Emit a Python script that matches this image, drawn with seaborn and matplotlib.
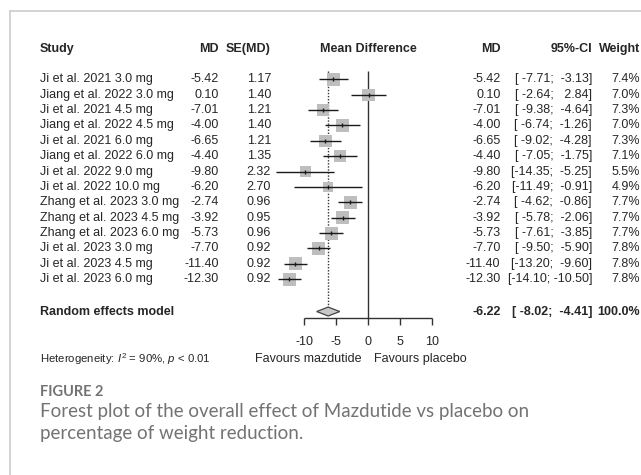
import numpy as np
import pandas as pd
import matplotlib
matplotlib.use("Agg")
import matplotlib.pyplot as plt
from matplotlib.transforms import blended_transform_factory
from matplotlib.lines import Line2D
from matplotlib.patches import Polygon
import seaborn as sns

# ---------------- data ----------------
studies = ["Ji et al. 2021 3.0 mg", "Jiang et al. 2022 3.0 mg", "Ji et al. 2021 4.5 mg",
           "Jiang et al. 2022 4.5 mg", "Ji et al. 2021 6.0 mg", "Jiang et al. 2022 6.0 mg",
           "Ji et al. 2022 9.0 mg", "Ji et al. 2022 10.0 mg", "Zhang et al. 2023 3.0 mg",
           "Zhang et al. 2023 4.5 mg", "Zhang et al. 2023 6.0 mg", "Ji et al. 2023 3.0 mg",
           "Ji et al. 2023 4.5 mg", "Ji et al. 2023 6.0 mg"]
md = [-5.42, 0.10, -7.01, -4.00, -6.65, -4.40, -9.80, -6.20, -2.74, -3.92, -5.73, -7.70, -11.40, -12.30]
se = [1.17, 1.40, 1.21, 1.40, 1.21, 1.35, 2.32, 2.70, 0.96, 0.95, 0.96, 0.92, 0.92, 0.92]
ci_lo = [-7.71, -2.64, -9.38, -6.74, -9.02, -7.05, -14.35, -11.49, -4.62, -5.78, -7.61, -9.50, -13.20, -14.10]
ci_hi = [-3.13, 2.84, -4.64, -1.26, -4.28, -1.75, -5.25, -0.91, -0.86, -2.06, -3.85, -5.90, -9.60, -10.50]
weight = [7.4, 7.0, 7.3, 7.0, 7.3, 7.1, 5.5, 4.9, 7.7, 7.7, 7.7, 7.8, 7.8, 7.8]
re_label = "Random effects model"
re_md, re_lo, re_hi, re_weight = -6.22, -8.02, -4.41, 100.0
x_ticks = [-10, -5, 0, 5, 10]
label_left = "Favours mazdutide"
label_right = "Favours placebo"
heterogeneity = r"Heterogeneity: $I^2$ = 90%, $p$ < 0.01"
fig_label = "FIGURE 2"
caption = ["Forest plot of the overall effect of Mazdutide vs placebo on",
           "percentage of weight reduction."]

# ---------------- style ----------------
sns.set_style("white")
plt.rcParams["font.family"] = ["Liberation Sans", "DejaVu Sans"]
plt.rcParams["mathtext.fontset"] = "custom"
plt.rcParams["mathtext.rm"] = "Liberation Sans"
plt.rcParams["mathtext.it"] = "Liberation Sans:italic"

W, H = 641, 475
fig = plt.figure(figsize=(W / 100, H / 100), dpi=100)
ax = fig.add_axes([0, 0, 1, 1])
ax.axis("off")

# layout: pixel geometry
ROW0, ROWH = 79.3, 15.38
X0, XU = 368.0, 6.4
ax.set_xlim(-X0 / XU, (W - X0) / XU)
ax.set_ylim((H - ROW0) / ROWH, -ROW0 / ROWH)

n = len(studies)
rows = np.arange(n)
re_row = 15.1
head_row = -2.0
axis_row = 15.54

df = pd.DataFrame({"study": studies, "md": md, "lo": ci_lo, "hi": ci_hi,
                   "w": weight, "row": rows})

FS = 9
tr = blended_transform_factory(fig.transFigure, ax.transData)
def px(x):
    return x / W

# headers
hdr = dict(fontsize=FS, fontweight="bold", va="center", transform=tr)
ax.text(px(40), head_row, "Study", ha="left", **hdr)
ax.text(px(219), head_row, "MD", ha="right", **hdr)
ax.text(px(271), head_row, "SE(MD)", ha="right", **hdr)
ax.text(px(368), head_row, "Mean Difference", ha="center", **hdr)
ax.text(px(500.5), head_row, "MD", ha="right", **hdr)
ax.text(px(592), head_row, "95%-CI", ha="right", **hdr)
ax.text(px(640), head_row, "Weight", ha="right", **hdr)

# row text
lo_w = max(len(f"{v:.2f}") for v in ci_lo + [re_lo])
hi_w = max(len(f"{v:.2f}") for v in ci_hi + [re_hi])
def ci_str(lo, hi):
    return "[" + f"{lo:.2f}".rjust(lo_w) + "; " + f"{hi:.2f}".rjust(hi_w) + "]"

txt = dict(fontsize=FS, va="center", transform=tr)
for i in range(n):
    ax.text(px(40), rows[i], studies[i], ha="left", **txt)
    ax.text(px(219), rows[i], f"{md[i]:.2f}", ha="right", **txt)
    ax.text(px(271), rows[i], f"{se[i]:.2f}", ha="right", **txt)
    ax.text(px(500.5), rows[i], f"{md[i]:.2f}", ha="right", **txt)
    ax.text(px(592), rows[i], ci_str(ci_lo[i], ci_hi[i]), ha="right", **txt)
    ax.text(px(640), rows[i], f"{weight[i]:.1f}%", ha="right", **txt)

ax.text(px(40), re_row, re_label, ha="left", fontweight="bold", **txt)
ax.text(px(500.5), re_row, f"{re_md:.2f}", ha="right", fontweight="bold", **txt)
ax.text(px(592), re_row, ci_str(re_lo, re_hi), ha="right", fontweight="bold", **txt)
ax.text(px(640), re_row, f"{re_weight:.1f}%", ha="right", fontweight="bold", **txt)

# reference lines
top_row = -0.56
d_half = 0.29
ax.vlines(0, top_row, axis_row, color="#333333", lw=1.0, zorder=1)
ax.vlines(re_md, top_row, re_row - d_half, color="#333333", lw=1.0,
          linestyles=(0, (1, 1.2)), zorder=1)

# squares (area ~ weight)
side_px = 13.0 * np.sqrt(df["w"] / max(weight))
sizes = (side_px * 0.72) ** 2
sns.scatterplot(data=df, x="md", y="row", marker="s", s=sizes, color="#bebebe",
                linewidth=0, ax=ax, legend=False, zorder=2)
ax.hlines(df["row"], df["lo"], df["hi"], color="#1a1a1a", lw=1.0, zorder=3)
sns.scatterplot(data=df, x="md", y="row", marker="|", s=12, color="#1a1a1a",
                linewidth=1.0, ax=ax, legend=False, zorder=4)

# diamond
dia = Polygon([[re_lo, re_row], [re_md, re_row - d_half], [re_hi, re_row],
               [re_md, re_row + d_half]], closed=True, facecolor="#c8c8c8",
              edgecolor="#444444", lw=0.9, zorder=3)
ax.add_patch(dia)

# x axis
ax.hlines(axis_row, x_ticks[0], x_ticks[-1], color="#333333", lw=1.0)
ax.vlines(x_ticks, axis_row, axis_row + 0.45, color="#333333", lw=1.0)
for t in x_ticks:
    ax.text(t, 17.08, f"{t}", ha="center", va="center", fontsize=FS)
ax.text(px(361.5), 18.18, label_left, ha="right", va="center", fontsize=FS, transform=tr)
ax.text(px(374), 18.18, label_right, ha="left", va="center", fontsize=FS, transform=tr)
ax.text(px(40), 18.18, heterogeneity, ha="left", va="center", fontsize=8.2, transform=tr)

# card border
bc = "#cccccc"
fig.add_artist(Line2D([px(10), px(10)], [1 - 11 / H, 0], transform=fig.transFigure, color=bc, lw=1.2))
fig.add_artist(Line2D([px(10), 1], [1 - 11 / H, 1 - 11 / H], transform=fig.transFigure, color=bc, lw=1.2))

# caption
cap_col = "#737373"
fig.text(px(40), 1 - 392 / H, fig_label, ha="left", va="center", fontsize=10.5,
         family=["Lato", "DejaVu Sans"], fontweight="bold", color=cap_col)
fig.text(px(40), 1 - 411.5 / H, caption[0], ha="left", va="center", fontsize=13.5,
         family=["Lato", "DejaVu Sans"], color=cap_col)
fig.text(px(40), 1 - 433 / H, caption[1], ha="left", va="center", fontsize=13.5,
         family=["Lato", "DejaVu Sans"], color=cap_col)

fig.savefig("out.png", dpi=100, facecolor="white")
